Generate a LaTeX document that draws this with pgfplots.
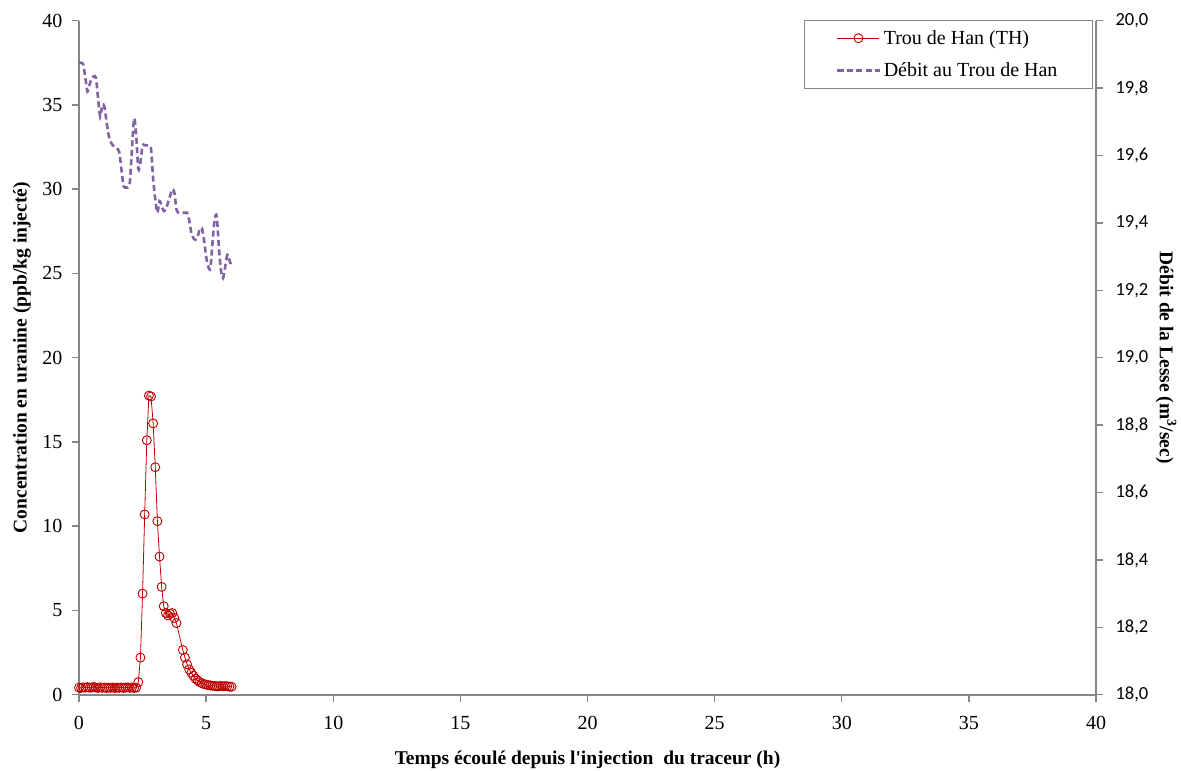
\documentclass[border=0pt]{standalone}
\usepackage{pgfplots}
\pgfplotsset{compat=1.18}
\usepackage{fontspec}
\setmainfont{Liberation Serif}
\newfontfamily\calib{Carlito}
\definecolor{thred}{RGB}{192,0,0}
\definecolor{debit}{RGB}{128,100,162}
\definecolor{axgray}{RGB}{134,134,134}
\pgfplotsset{
  legend image code/.code={\draw[mark repeat=2,mark phase=2,#1] plot coordinates {(0bp,0bp) (21bp,0bp) (42bp,0bp)};},
  common/.style={
    scale only axis, width=1017bp, height=674bp,
    xmin=0, xmax=40,
    axis line style={-, axgray, line width=1.6bp},
    every tick/.style={axgray, line width=1.4bp},
    major tick length=7bp,
  },
}
\begin{document}
\begin{tikzpicture}
\useasboundingbox (-79bp,-76.3bp) rectangle (1102bp,694.7bp);
\begin{axis}[common,
  axis x line*=bottom, axis y line*=left,
  tick align=outside,
  ymin=0, ymax=40,
  xtick={0,5,...,40}, ytick={0,5,...,40},
  tick label style={font=\fontsize{20bp}{24bp}\selectfont, /pgf/number format/assume math mode=true},
  yticklabel style={xshift=-6bp},
  xticklabel style={yshift=-11bp},
  xlabel={Temps écoulé depuis l\textquotesingle injection\ \ du traceur (h)},
  ylabel={Concentration en uranine (ppb/kg injecté)},
  xlabel style={font=\fontsize{19.5bp}{23bp}\selectfont\bfseries, at={(axis description cs:0.5,-0.0965)}, anchor=center},
  ylabel style={font=\fontsize{19.5bp}{23bp}\selectfont\bfseries, at={(axis description cs:-0.056,0.5)}, anchor=center},
]
\addplot[color=thred, line width=0.8bp, mark=o, mark size=4.5bp, mark options={solid, line width=0.9bp}] coordinates {
(0.000,0.42) (0.083,0.40) (0.167,0.44) (0.250,0.42) (0.333,0.45) (0.417,0.41) (0.500,0.43) (0.583,0.46)
(0.667,0.42) (0.750,0.40) (0.833,0.44) (0.917,0.41) (1.000,0.43) (1.083,0.40) (1.167,0.42) (1.250,0.41)
(1.333,0.43) (1.417,0.40) (1.500,0.42) (1.583,0.41) (1.667,0.43) (1.750,0.40) (1.833,0.42) (1.917,0.44)
(2.000,0.41) (2.083,0.43) (2.167,0.40) (2.250,0.42) (2.333,0.75) (2.417,2.2) (2.500,6.0) (2.583,10.7)
(2.667,15.1) (2.750,17.75) (2.833,17.7) (2.917,16.1) (3.000,13.5) (3.083,10.3) (3.167,8.2) (3.250,6.4)
(3.333,5.25) (3.417,4.85) (3.500,4.7) (3.583,4.8) (3.667,4.85) (3.750,4.55) (3.833,4.25) (4.083,2.65)
(4.167,2.2) (4.250,1.8) (4.333,1.5) (4.417,1.3) (4.500,1.12) (4.583,0.95) (4.667,0.85) (4.750,0.75)
(4.833,0.68) (4.917,0.63) (5.000,0.6) (5.083,0.57) (5.167,0.55) (5.250,0.53) (5.333,0.52) (5.417,0.5)
(5.500,0.5) (5.583,0.52) (5.667,0.5) (5.750,0.51) (5.833,0.5) (5.917,0.48) (6.000,0.47)
};
\end{axis}
\begin{axis}[common,
  axis x line=none, axis y line*=right,
  tick align=outside,
  ymin=18, ymax=20,
  ytick={18,18.2,18.4,18.6,18.8,19,19.2,19.4,19.6,19.8,20},
  yticklabel style={xshift=9bp, font=\calib\fontsize{18.5bp}{22bp}\selectfont, /pgf/number format/.cd, fixed, fixed zerofill, precision=1, use comma, assume math mode=true},
  ylabel={Débit de la Lesse (m\textsuperscript{3}/sec)},
  ylabel style={font=\fontsize{19.5bp}{23bp}\selectfont\bfseries, at={(axis description cs:1.069,0.5)}, anchor=center, rotate=180},
  legend style={at={(0.997,1.001)}, anchor=north east, draw=axgray, line width=1bp, fill=white,
    font=\fontsize{20bp}{24bp}\selectfont, inner xsep=32bp, inner ysep=8bp, row sep=13bp,
    nodes={inner xsep=3bp, inner ysep=2bp}},
  legend cell align=left,
]
\addlegendimage{color=thred, line width=0.8bp, mark=o, mark size=4.5bp, mark options={solid, line width=0.9bp}}
\addlegendentry{Trou de Han (TH)}
\addplot[color=debit, line width=2.6bp, dash pattern=on 6bp off 3.5bp, smooth, tension=0.45] coordinates {
(0.000,19.875) (0.083,19.875) (0.167,19.87) (0.250,19.83) (0.333,19.79) (0.417,19.81) (0.500,19.83) (0.583,19.835)
(0.667,19.83) (0.750,19.77) (0.833,19.715) (0.917,19.75) (1.000,19.745) (1.083,19.70) (1.167,19.66) (1.250,19.64)
(1.333,19.63) (1.417,19.625) (1.500,19.62) (1.583,19.61) (1.667,19.56) (1.750,19.51) (1.833,19.505) (1.917,19.505)
(2.000,19.52) (2.083,19.62) (2.167,19.71) (2.250,19.66) (2.333,19.56) (2.417,19.58) (2.500,19.63) (2.583,19.63)
(2.667,19.63) (2.750,19.63) (2.833,19.62) (2.917,19.53) (3.000,19.47) (3.083,19.43) (3.167,19.465) (3.250,19.45)
(3.333,19.435) (3.417,19.44) (3.500,19.46) (3.583,19.48) (3.667,19.50) (3.750,19.49) (3.833,19.44) (3.917,19.43)
(4.000,19.43) (4.083,19.43) (4.167,19.43) (4.250,19.43) (4.333,19.41) (4.417,19.37) (4.500,19.355) (4.583,19.35)
(4.667,19.36) (4.750,19.38) (4.833,19.385) (4.917,19.35) (5.000,19.30) (5.083,19.27) (5.167,19.265) (5.250,19.34)
(5.333,19.41) (5.417,19.42) (5.500,19.33) (5.583,19.26) (5.667,19.236) (5.750,19.27) (5.833,19.305) (5.917,19.29)
(6.000,19.27)
};
\addlegendentry{Débit au Trou de Han}
\end{axis}
\end{tikzpicture}
\end{document}
